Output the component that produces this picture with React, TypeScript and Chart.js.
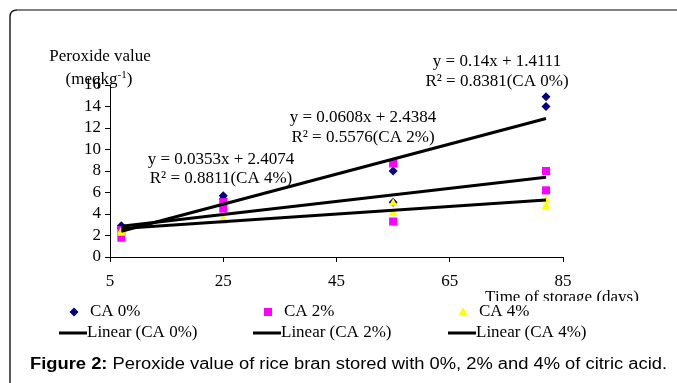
import React, { useEffect, useRef } from 'react';
import { Chart, registerables } from 'chart.js';

Chart.register(...registerables);

// ---- data ----
const days = [7, 25, 55, 82];
const ca0A = [2.9, 5.7, 8.0, 14.9];
const ca0B = [2.7, 5.4, 5.1, 14.0];
const ca2A = [2.5, 5.1, 8.7, 8.0];
const ca2B = [1.8, 4.5, 3.3, 6.2];
const ca4A = [2.4, 3.5, 5.0, 5.3];
const ca4B = [2.2, 3.3, 4.1, 4.7];

const trendDays = [7, 82];
const trend0 = [2.39, 12.89];
const trend2 = [2.86, 7.42];
const trend4 = [2.65, 5.3];

const seriesNames = ['CA 0%', 'CA 2%', 'CA 4%'];
const trendNames = ['Linear (CA 0%)', 'Linear (CA 2%)', 'Linear (CA 4%)'];
const eqLine1 = ['y = 0.14x + 1.4111', 'y = 0.0608x + 2.4384', 'y = 0.0353x + 2.4074'];
const eqLine2 = ['R² = 0.8381(CA 0%)', 'R² = 0.5576(CA 2%)', 'R² = 0.8811(CA 4%)'];

const xTitle = 'Time of storage (days)';
const yTitle1 = 'Peroxide value';
const captionBold = 'Figure 2:';
const captionRest = ' Peroxide value of rice bran stored with 0%, 2% and 4% of citric acid.';

const colors = ['#000080', '#FF00FF', '#FFFF00'];
const SERIF = '"Liberation Serif", "Times New Roman", serif';
const SANS = '"Liberation Sans", Arial, sans-serif';
const FS = 17;

const pts = (xs: number[], ys: number[]) => xs.map((x, i) => ({ x, y: ys[i] }));

function drawMarker(ctx: CanvasRenderingContext2D, kind: number, x: number, y: number) {
  ctx.save();
  ctx.fillStyle = colors[kind];
  ctx.beginPath();
  if (kind === 0) {
    const r = 4.5;
    ctx.moveTo(x, y - r);
    ctx.lineTo(x + r, y);
    ctx.lineTo(x, y + r);
    ctx.lineTo(x - r, y);
    ctx.closePath();
  } else if (kind === 1) {
    ctx.rect(x - 4, y - 4, 8, 8);
  } else {
    ctx.moveTo(x, y - 5);
    ctx.lineTo(x + 4.5, y + 3.5);
    ctx.lineTo(x - 4.5, y + 3.5);
    ctx.closePath();
  }
  ctx.fill();
  ctx.restore();
}

const extrasPlugin = {
  id: 'extras',
  afterDraw(chart: any) {
    const ctx: CanvasRenderingContext2D = chart.ctx;
    ctx.save();
    // frame (top and left edges only, as in the reference)
    ctx.strokeStyle = '#808080';
    ctx.lineWidth = 2;
    ctx.beginPath();
    ctx.moveTo(17, 10);
    ctx.lineTo(677, 10);
    ctx.stroke();
    ctx.strokeStyle = '#222';
    ctx.lineWidth = 1.5;
    ctx.beginPath();
    ctx.moveTo(17, 10);
    ctx.quadraticCurveTo(10, 10, 10, 17);
    ctx.lineTo(10, 383);
    ctx.stroke();

    ctx.fillStyle = '#000';
    ctx.textBaseline = 'middle';
    ctx.textAlign = 'center';
    const f = FS + 'px ' + SERIF;
    ctx.font = f;

    // y title
    ctx.fillText(yTitle1, 100, 57);
    const a = '(meqkg', sup = '-1', b = ')';
    const wa = ctx.measureText(a).width;
    ctx.font = '11px ' + SERIF;
    const ws = ctx.measureText(sup).width;
    ctx.font = f;
    const wb = ctx.measureText(b).width;
    const sx = 99 - (wa + ws + wb) / 2;
    ctx.textAlign = 'left';
    ctx.fillText(a, sx, 80);
    ctx.font = '11px ' + SERIF;
    ctx.fillText(sup, sx + wa, 75);
    ctx.font = f;
    ctx.fillText(b, sx + wa + ws, 80);

    // equations
    ctx.textAlign = 'center';
    const eqPos = [[497, 62, 82], [363, 118, 138], [221, 160, 179]];
    eqPos.forEach((p, i) => {
      ctx.fillText(eqLine1[i], p[0], p[1]);
      ctx.fillText(eqLine2[i], p[0], p[2]);
    });

    // x title (clipped at bottom like reference)
    ctx.save();
    ctx.beginPath();
    ctx.rect(400, 280, 277, 21);
    ctx.clip();
    ctx.fillText(xTitle, 562, 298);
    ctx.restore();

    // legend
    const colX = [74, 268, 463];
    ctx.textAlign = 'left';
    colX.forEach((cx, i) => {
      drawMarker(ctx, i, cx, 312);
      ctx.fillStyle = '#000';
      ctx.fillText(seriesNames[i], cx + 16, 312);
      ctx.strokeStyle = '#000';
      ctx.lineWidth = 3;
      ctx.beginPath();
      ctx.moveTo(cx - 15, 333);
      ctx.lineTo(cx + 13, 333);
      ctx.stroke();
      ctx.fillText(trendNames[i], cx + 13, 333);
    });

    // caption (horizontally stretched to match reference width)
    ctx.font = 'bold 16px ' + SANS;
    const wbld = ctx.measureText(captionBold).width;
    ctx.font = '16px ' + SANS;
    const wrest = ctx.measureText(captionRest).width;
    const k = 637 / (wbld + wrest);
    ctx.save();
    ctx.translate(30, 365);
    ctx.scale(k, 1);
    ctx.font = 'bold 16px ' + SANS;
    ctx.fillText(captionBold, 0, 0);
    ctx.font = '16px ' + SANS;
    ctx.fillText(captionRest, wbld, 0);
    ctx.restore();
    ctx.restore();
  },
};

export default function App() {
  const ref = useRef<HTMLCanvasElement>(null);
  useEffect(() => {
    document.body.style.margin = '0';
    document.body.style.overflow = 'hidden';
    const tickFont = { family: SERIF, size: FS };
    const scatter = (label: string, data: any, i: number, order: number) => ({
      type: 'scatter' as const,
      label,
      data,
      order,
      showLine: false,
      backgroundColor: colors[i],
      borderColor: colors[i],
      borderWidth: 0,
      pointStyle: i === 0 ? 'rectRot' : i === 1 ? 'rect' : 'triangle',
      pointRadius: i === 0 ? 4.5 : i === 1 ? 5.7 : 5,
      pointHoverRadius: i === 0 ? 4.5 : i === 1 ? 5.7 : 5,
    });
    const trend = (label: string, ys: number[]) => ({
      type: 'line' as const,
      label,
      data: pts(trendDays, ys),
      order: 0,
      borderColor: '#000',
      borderWidth: 3,
      pointRadius: 0,
      fill: false,
    });
    const chart = new Chart(ref.current!, {
      type: 'scatter',
      data: {
        datasets: [
          trend(trendNames[0], trend0),
          trend(trendNames[1], trend2),
          trend(trendNames[2], trend4),
          scatter(seriesNames[2], pts(days, ca4A), 2, 1),
          scatter(seriesNames[2], pts(days, ca4B), 2, 1),
          scatter(seriesNames[1], pts(days, ca2A), 1, 2),
          scatter(seriesNames[1], pts(days, ca2B), 1, 2),
          scatter(seriesNames[0], pts(days, ca0A), 0, 3),
          scatter(seriesNames[0], pts(days, ca0B), 0, 3),
        ] as any,
      },
      options: {
        animation: false,
        responsive: false,
        events: [],
        layout: { padding: { left: 65, right: 114, top: 85, bottom: 86 } },
        plugins: { legend: { display: false }, tooltip: { enabled: false } },
        scales: {
          x: {
            type: 'linear',
            min: 5,
            max: 85,
            ticks: { stepSize: 20, font: tickFont, color: '#000', padding: 9, maxRotation: 0, autoSkip: false },
            grid: { drawOnChartArea: false, tickLength: 5, color: '#000', tickColor: '#000' },
            border: { color: '#000', width: 1 },
            afterFit: (s: any) => { s.height = 40; },
          },
          y: {
            type: 'linear',
            min: 0,
            max: 16,
            ticks: { stepSize: 2, font: tickFont, color: '#000', padding: 4, autoSkip: false },
            grid: { drawOnChartArea: false, tickLength: 5, color: '#000', tickColor: '#000' },
            border: { color: '#000', width: 1 },
            afterFit: (s: any) => { s.width = 45; },
          },
        },
      } as any,
      plugins: [extrasPlugin],
    });
    return () => chart.destroy();
  }, []);
  return (
    <div style={{ position: 'absolute', left: 0, top: 0, width: 677, height: 383, background: '#fff', overflow: 'hidden' }}>
      <canvas ref={ref} width={677} height={383} style={{ display: 'block', width: 677, height: 383 }} />
    </div>
  );
}
